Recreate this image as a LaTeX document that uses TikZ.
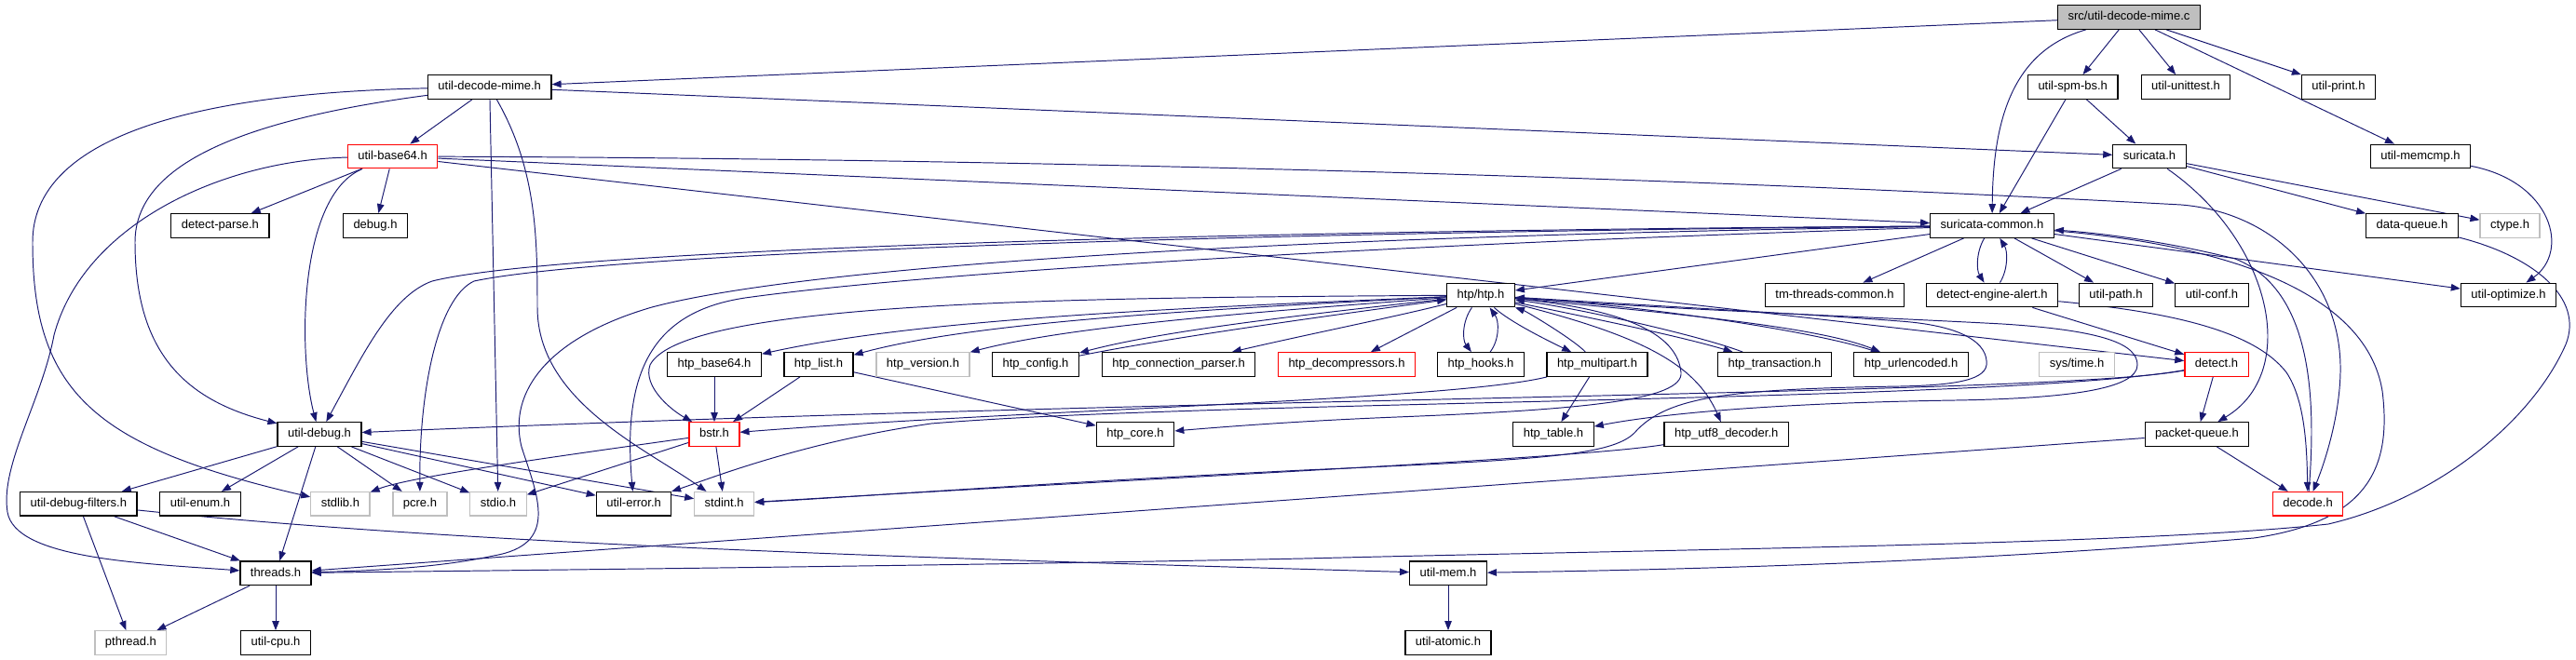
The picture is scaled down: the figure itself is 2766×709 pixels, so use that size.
\documentclass[tikz,border=0pt]{standalone}
\usepackage{fontspec}
\setmainfont{Liberation Sans}
\usetikzlibrary{arrows.meta}
\definecolor{edgeblue}{HTML}{191970}
\definecolor{boxgray}{HTML}{BFBFBF}
\pgfdeclarelayer{background}
\pgfsetlayers{background,main}

\begin{document}
\begin{tikzpicture}[x=0.02cm,y=-0.02cm,
  file/.style={draw=black,line width=0.7pt,fill=white,inner xsep=0.22cm,inner ysep=0pt,minimum height=0.512cm,font=\fontsize{7.4}{9}\selectfont,text height=5.4pt,text depth=1.5pt},
  sysfile/.style={file,draw=boxgray},
  trunc/.style={file,draw=red},
  root/.style={file,fill=boxgray},
  inc/.style={draw=edgeblue,line width=0.55pt,-{Triangle[length=0.2cm,width=0.15cm]}}]
\useasboundingbox (0,0) rectangle (2766,709);
\node[root] (cfile) at (2286,18.5) {src/util-decode-mime.c};
\node[file] (dmime) at (525.7,93.5) {util-decode-mime.h};
\node[file] (spmbs) at (2225.7,93.5) {util-spm-bs.h};
\node[file] (unittest) at (2347,93.5) {util-unittest.h};
\node[file] (uprint) at (2511,93.5) {util-print.h};
\node[trunc] (base64) at (421.6,168) {util-base64.h};
\node[file] (suricata) at (2308,168) {suricata.h};
\node[file] (memcmp) at (2599,168) {util-memcmp.h};
\node[file] (dparse) at (236.4,242.5) {detect-parse.h};
\node[file] (debug) at (403,242.5) {debug.h};
\node[file] (common) at (2139,242.5) {suricata-common.h};
\node[file] (dqueue) at (2590,242.5) {data-queue.h};
\node[sysfile] (ctype) at (2695,242.5) {ctype.h};
\node[file] (htp) at (1590,317) {htp/htp.h};
\node[file] (tmthreads) at (1970,317) {tm-threads-common.h};
\node[file] (dealert) at (2139,317) {detect-engine-alert.h};
\node[file] (upath) at (2272,317) {util-path.h};
\node[file] (uconf) at (2375,317) {util-conf.h};
\node[file] (uopt) at (2693.5,317) {util-optimize.h};
\node[file] (hbase64) at (767,391.5) {htp\_base64.h};
\node[file] (hlist) at (879,391.5) {htp\_list.h};
\node[sysfile] (hversion) at (991,391.5) {htp\_version.h};
\node[file] (hconfig) at (1112,391.5) {htp\_config.h};
\node[file] (hconn) at (1265.6,391.5) {htp\_connection\_parser.h};
\node[trunc] (hdecomp) at (1446,391.5) {htp\_decompressors.h};
\node[file] (hhooks) at (1590,391.5) {htp\_hooks.h};
\node[file] (hmulti) at (1715,391.5) {htp\_multipart.h};
\node[file] (htrans) at (1905.5,391.5) {htp\_transaction.h};
\node[file] (hurlenc) at (2052,391.5) {htp\_urlencoded.h};
\node[sysfile] (systime) at (2230,391.5) {sys/time.h};
\node[trunc] (detect) at (2380,391.5) {detect.h};
\node[file] (udebug) at (343,466.5) {util-debug.h};
\node[trunc] (bstr) at (767,466.5) {bstr.h};
\node[file] (hcore) at (1219,466.5) {htp\_core.h};
\node[file] (htable) at (1668,466.5) {htp\_table.h};
\node[file] (hutf8) at (1853.7,466.5) {htp\_utf8\_decoder.h};
\node[file] (pqueue) at (2359,466.5) {packet-queue.h};
\node[file] (dfilters) at (84.4,541.3) {util-debug-filters.h};
\node[file] (uenum) at (215,541.3) {util-enum.h};
\node[sysfile] (stdlib) at (365.4,541.3) {stdlib.h};
\node[sysfile] (pcre) at (451,541.3) {pcre.h};
\node[sysfile] (stdio) at (535,541.3) {stdio.h};
\node[file] (uerror) at (680.6,541.3) {util-error.h};
\node[sysfile] (stdint) at (777.7,541.3) {stdint.h};
\node[trunc] (decode) at (2478,541.3) {decode.h};
\node[file] (threads) at (296,615.8) {threads.h};
\node[file] (umem) at (1555,615.8) {util-mem.h};
\node[sysfile] (pthread) at (140.4,690.5) {pthread.h};
\node[file] (ucpu) at (296,690.5) {util-cpu.h};
\node[file] (uatomic) at (1555,690.5) {util-atomic.h};
\begin{pgfonlayer}{background}
\draw[inc] (cfile) -- (dmime);
\draw[inc] (cfile) .. controls (2160,55) and (2140,130) .. (common);
\draw[inc] (cfile) -- (spmbs);
\draw[inc] (cfile) -- (unittest);
\draw[inc] (cfile) -- (uprint);
\draw[inc] (cfile) -- (memcmp);
\draw[inc] (dmime) -- (base64);
\draw[inc] (dmime) -- (suricata);
\draw[inc] (dmime) .. controls (250,130) and (145,180) .. (145,260) .. controls (145,380) and (200,430) .. (udebug);
\draw[inc] (dmime) .. controls (200,100) and (35,150) .. (35,260) .. controls (35,420) and (100,480) .. (stdlib);
\draw[inc] (dmime) -- (stdio);
\draw[inc] (dmime) .. controls (575,180) and (577,250) .. (577,330) .. controls (577,430) and (690,480) .. (stdint);
\draw[inc] (base64) -- (dparse);
\draw[inc] (base64) -- (debug);
\draw[inc] (base64) .. controls (320,210) and (320,380) .. (udebug);
\draw[inc] (base64) .. controls (240,172) and (90,240) .. (58,360) .. controls (45,430) and (0,500) .. (8,550) .. controls (16,600) and (150,605) .. (threads);
\draw[inc] (base64) -- (common);
\draw[inc] (base64) .. controls (1000,170) and (1700,185) .. (2342,220) .. controls (2440,228) and (2515,300) .. (2513,400) .. controls (2512,450) and (2495,500) .. (decode);
\draw[inc] (base64) -- (detect);
\draw[inc] (spmbs) -- (common);
\draw[inc] (spmbs) -- (suricata);
\draw[inc] (suricata) -- (common);
\draw[inc] (suricata) -- (dqueue);
\draw[inc] (suricata) -- (ctype);
\draw[inc] (suricata) .. controls (2440,260) and (2470,400) .. (pqueue);
\draw[inc] (memcmp) .. controls (2740,195) and (2760,270) .. (uopt);
\draw[inc] (dqueue) .. controls (2720,275) and (2775,320) .. (2755,370) .. controls (2720,450) and (2620,535) .. (2500,563) .. controls (2300,585) and (1800,590) .. (1400,600) .. controls (1000,608) and (600,612) .. (threads);
\draw[inc] (common) .. controls (1300,248) and (600,268) .. (464,302) .. controls (420,318) and (390,380) .. (udebug);
\draw[inc] (common) .. controls (1300,250) and (650,272) .. (509,302) .. controls (470,320) and (450,420) .. (pcre);
\draw[inc] (common) .. controls (1300,255) and (850,290) .. (700,330) .. controls (590,362) and (545,420) .. (560,480) .. controls (578,535) and (600,585) .. (530,597) .. controls (470,610) and (400,613) .. (threads);
\draw[inc] (common) .. controls (1500,262) and (1000,292) .. (800,320) .. controls (700,335) and (668,400) .. (uerror);
\draw[inc] (common) -- (htp);
\draw[inc] (common) -- (tmthreads);
\draw[inc] (common) .. controls (2122,270) and (2122,290) .. (dealert);
\draw[inc] (dealert) .. controls (2156,290) and (2156,270) .. (common);
\draw[inc] (common) -- (upath);
\draw[inc] (common) -- (uconf);
\draw[inc] (common) -- (uopt);
\draw[inc] (common) .. controls (2380,262) and (2540,310) .. (2558,420) .. controls (2568,500) and (2545,560) .. (2420,578) .. controls (2100,605) and (1800,612) .. (umem);
\draw[inc] (decode) .. controls (2488,420) and (2480,310) .. (2400,278) .. controls (2320,258) and (2250,250) .. (common);
\draw[inc] (htp) .. controls (1300,330) and (1000,340) .. (hbase64);
\draw[inc] (htp) .. controls (1300,332) and (1050,345) .. (hlist);
\draw[inc] (htp) .. controls (1350,335) and (1150,350) .. (hversion);
\draw[inc] (htp) .. controls (1400,338) and (1250,355) .. (hconfig);
\draw[inc] (hconfig) .. controls (1260,362) and (1420,340) .. (htp);
\draw[inc] (htp) .. controls (1500,340) and (1400,360) .. (hconn);
\draw[inc] (htp) -- (hdecomp);
\draw[inc] (htp) .. controls (1570,345) and (1570,365) .. (hhooks);
\draw[inc] (hhooks) .. controls (1610,365) and (1610,345) .. (htp);
\draw[inc] (htp) .. controls (1620,345) and (1660,365) .. (hmulti);
\draw[inc] (hmulti) .. controls (1690,365) and (1640,335) .. (htp);
\draw[inc] (htp) .. controls (1700,340) and (1800,360) .. (htrans);
\draw[inc] (htrans) .. controls (1830,362) and (1700,332) .. (htp);
\draw[inc] (htp) .. controls (1780,335) and (1950,350) .. (hurlenc);
\draw[inc] (hurlenc) .. controls (1960,358) and (1780,330) .. (htp);
\draw[inc] (htp) .. controls (1760,360) and (1820,390) .. (hutf8);
\draw[inc] (htp) .. controls (1200,320) and (735,320) .. (698,392) .. controls (690,415) and (720,440) .. (bstr);
\draw[inc] (htp) .. controls (1800,330) and (1950,338) .. (2040,345) .. controls (2110,350) and (2135,370) .. (2133,392) .. controls (2131,410) and (2090,414) .. (2040,415) .. controls (1860,418) and (1790,425) .. (1755,465) .. controls (1730,490) and (1650,494) .. (1400,505) .. controls (1100,520) and (900,535) .. (stdint);
\draw[inc] (htp) .. controls (1800,333) and (2000,340) .. (2150,348) .. controls (2260,355) and (2295,370) .. (2295,392) .. controls (2295,418) and (2220,428) .. (2100,430) .. controls (1900,433) and (1780,445) .. (htable);
\draw[inc] (htp) .. controls (1720,330) and (1800,350) .. (1805,400) .. controls (1808,430) and (1700,440) .. (1500,448) .. controls (1400,452) and (1320,458) .. (hcore);
\draw[inc] (hmulti) -- (htable);
\draw[inc] (hmulti) .. controls (1560,430) and (1100,440) .. (bstr);
\draw[inc] (hbase64) -- (bstr);
\draw[inc] (hlist) -- (bstr);
\draw[inc] (hlist) -- (hcore);
\draw[inc] (hutf8) .. controls (1700,492) and (1300,510) .. (stdint);
\draw[inc] (detect) .. controls (2200,425) and (1300,425) .. (udebug);
\draw[inc] (detect) .. controls (2150,432) and (1300,430) .. (1000,455) .. controls (860,475) and (760,515) .. (uerror);
\draw[inc] (detect) -- (pqueue);
\draw[inc] (dealert) -- (detect);
\draw[inc] (dealert) .. controls (2330,335) and (2420,355) .. (2455,400) .. controls (2475,430) and (2477,480) .. (decode);
\draw[inc] (pqueue) -- (decode);
\draw[inc] (pqueue) -- (threads);
\draw[inc] (udebug) -- (dfilters);
\draw[inc] (udebug) -- (uenum);
\draw[inc] (udebug) -- (threads);
\draw[inc] (udebug) -- (pcre);
\draw[inc] (udebug) -- (stdio);
\draw[inc] (udebug) -- (uerror);
\draw[inc] (udebug) -- (stdint);
\draw[inc] (bstr) .. controls (600,490) and (440,512) .. (stdlib);
\draw[inc] (bstr) -- (stdio);
\draw[inc] (bstr) -- (stdint);
\draw[inc] (dfilters) -- (pthread);
\draw[inc] (dfilters) -- (threads);
\draw[inc] (dfilters) .. controls (500,585) and (1000,600) .. (umem);
\draw[inc] (threads) -- (pthread);
\draw[inc] (threads) -- (ucpu);
\draw[inc] (umem) -- (uatomic);
\end{pgfonlayer}
\end{tikzpicture}
\end{document}
